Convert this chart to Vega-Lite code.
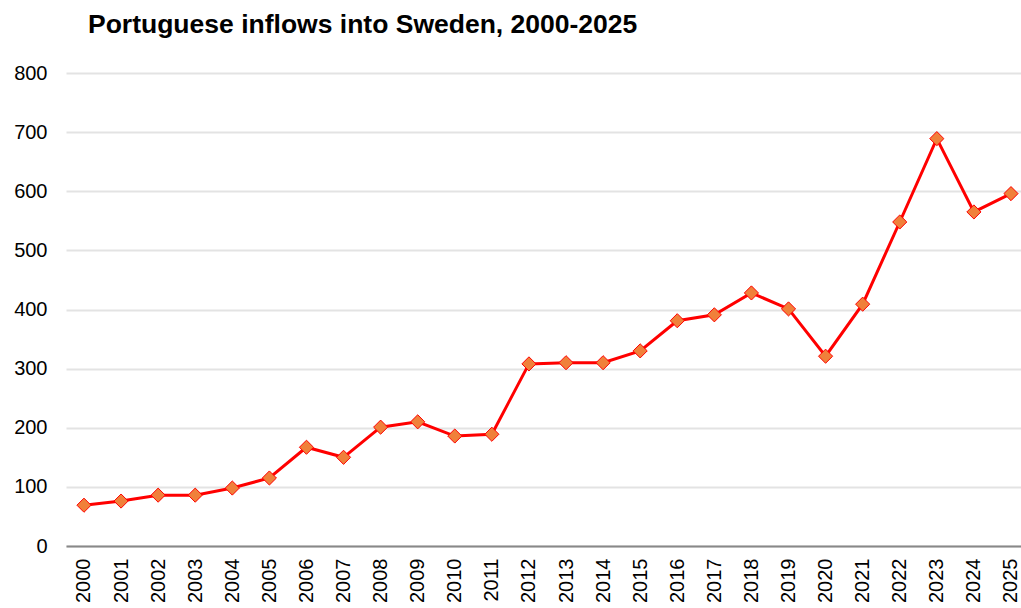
{
  "$schema": "https://vega.github.io/schema/vega-lite/v6.json",
  "autosize": {"type": "none"},
  "padding": {"left": 66, "top": 73, "right": 0, "bottom": 62},
  "width": 955,
  "height": 473,
  "background": "white",
  "title": {
    "text": "Portuguese inflows into Sweden, 2000-2025",
    "anchor": "start",
    "frame": "group",
    "dx": 22,
    "offset": 4,
    "baseline": "alphabetic",
    "font": "Liberation Sans",
    "fontSize": 26.5,
    "fontWeight": "bold",
    "color": "#000000"
  },
  "data": {
    "values": [
      {"year": 2000, "value": 69},
      {"year": 2001, "value": 76},
      {"year": 2002, "value": 86},
      {"year": 2003, "value": 86},
      {"year": 2004, "value": 98},
      {"year": 2005, "value": 115},
      {"year": 2006, "value": 167},
      {"year": 2007, "value": 150},
      {"year": 2008, "value": 201},
      {"year": 2009, "value": 210},
      {"year": 2010, "value": 186},
      {"year": 2011, "value": 189},
      {"year": 2012, "value": 308},
      {"year": 2013, "value": 310},
      {"year": 2014, "value": 310},
      {"year": 2015, "value": 330},
      {"year": 2016, "value": 381},
      {"year": 2017, "value": 391},
      {"year": 2018, "value": 428},
      {"year": 2019, "value": 401},
      {"year": 2020, "value": 321},
      {"year": 2021, "value": 409},
      {"year": 2022, "value": 548},
      {"year": 2023, "value": 689},
      {"year": 2024, "value": 565},
      {"year": 2025, "value": 596}
    ]
  },
  "config": {
    "view": {"stroke": null},
    "font": "Liberation Sans"
  },
  "encoding": {
    "x": {
      "field": "year",
      "type": "quantitative",
      "scale": {"domain": [1999.515, 2025.27], "nice": false, "zero": false},
      "axis": {
        "title": null,
        "values": [2000, 2001, 2002, 2003, 2004, 2005, 2006, 2007, 2008, 2009, 2010, 2011, 2012, 2013, 2014, 2015, 2016, 2017, 2018, 2019, 2020, 2021, 2022, 2023, 2024, 2025],
        "format": "d",
        "labelAngle": -90,
        "labelFontSize": 20,
        "labelColor": "#000000",
        "labelPadding": 12,
        "labelOverlap": false,
        "labelFlush": false,
        "ticks": false,
        "domainColor": "#888888",
        "domainWidth": 2,
        "grid": false
      }
    },
    "y": {
      "field": "value",
      "type": "quantitative",
      "scale": {"domain": [0, 800], "nice": false},
      "axis": {
        "title": null,
        "values": [0, 100, 200, 300, 400, 500, 600, 700, 800],
        "labelFontSize": 20,
        "labelColor": "#000000",
        "labelPadding": 19,
        "ticks": false,
        "domain": false,
        "gridColor": "#e3e3e3",
        "gridWidth": 2
      }
    }
  },
  "layer": [
    {
      "mark": {"type": "line", "color": "#ff0000", "strokeWidth": 3}
    },
    {
      "mark": {
        "type": "point",
        "shape": "diamond",
        "filled": true,
        "size": 200,
        "fill": "#f0803a",
        "stroke": "#ff0000",
        "strokeWidth": 1,
        "opacity": 1
      }
    }
  ]
}
